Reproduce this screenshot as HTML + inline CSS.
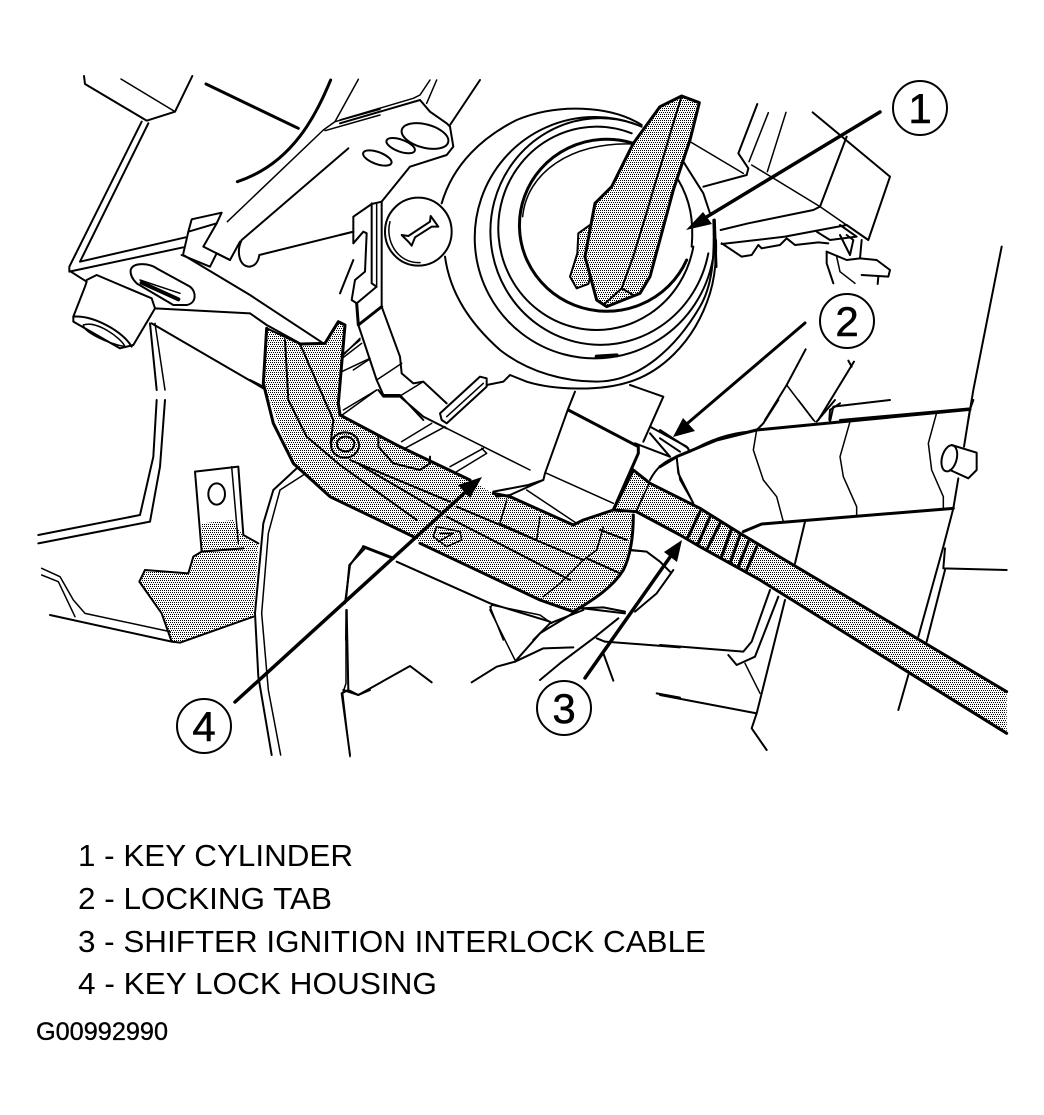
<!DOCTYPE html>
<html><head><meta charset="utf-8"><style>
html,body{margin:0;padding:0;background:#fff;width:1044px;height:1115px;overflow:hidden}
svg{display:block}
polyline,path,ellipse,line,polygon{stroke-linejoin:round;stroke-linecap:round}
.k{stroke-width:9}.t{stroke-width:4.5}.x{stroke-width:12}
.s{fill:url(#st)}
text{font-family:"Liberation Sans",sans-serif;fill:#000;stroke:none}
</style></head><body>
<svg width="1044" height="1115" viewBox="0 0 1044 1115" xmlns="http://www.w3.org/2000/svg">
<defs>
<pattern id="st" patternUnits="userSpaceOnUse" width="18" height="18">
<rect width="18" height="18" fill="#fff"/>
<rect x="0" y="0" width="3" height="3" fill="#000"/><rect x="6" y="0" width="3" height="3" fill="#000"/><rect x="12" y="0" width="3" height="3" fill="#000"/>
<rect x="3" y="6" width="3" height="3" fill="#000"/><rect x="9" y="6" width="3" height="3" fill="#000"/><rect x="15" y="6" width="3" height="3" fill="#000"/>
<rect x="0" y="12" width="3" height="3" fill="#000"/><rect x="6" y="12" width="3" height="3" fill="#000"/><rect x="12" y="12" width="3" height="3" fill="#000"/>
</pattern>
</defs>
<rect width="1044" height="1115" fill="#fff"/>

<!-- top-left bracket -->
<g transform="translate(40,60) scale(.33333)" fill="none" stroke="#000" stroke-width="6">
<polyline points="132,48 135,72 320,182 405,155 457,48"/>
<polyline class="t" points="243,57 405,155"/>
<polyline class="k" points="498,72 775,205"/>
<path class="k" d="M872,60 C830,160 760,310 592,365"/>
<polyline class="t" points="955,58 885,185"/>
<polyline class="t" points="1020,148 885,185 850,210 562,485"/>
<polyline class="t" points="1020,165 855,212"/>
<path d="M925,265 L605,540 C590,570 595,615 625,620 C645,620 655,605 658,585 L940,515"/>
<polyline points="305,185 88,620 88,632 140,665 135,680 100,770 100,785 240,865 280,855 345,745 630,760 680,795 780,850 855,855"/>
<polyline points="325,190 120,605 437,532"/>
<polyline points="88,635 430,562"/>
<polyline points="425,585 510,620 530,580 570,600 600,545"/>
<polyline points="430,580 445,515 530,490 490,560 570,600"/>
<polyline points="445,515 455,478 545,458 530,490"/>
<polyline points="430,585 630,705 850,850"/>
<path d="M272,630 C280,605 330,610 350,625 L450,680 C470,695 470,730 440,735 L400,735 L290,670 C280,660 270,645 272,630 Z"/>
<polyline class="x" points="305,668 415,718"/>
<polyline class="t" points="300,660 420,700"/>
<polyline points="140,660 170,645 335,715 345,745"/>
<path d="M100,770 C160,765 250,815 275,860"/>
<path class="t" d="M130,795 C170,780 245,835 255,860 C200,850 130,815 130,795 Z"/>
<polyline points="335,790 670,985"/>
<polyline points="330,790 350,990"/>
<polyline class="t" points="345,790 375,990"/>
</g>

<!-- key cylinder -->
<g transform="translate(340,80) scale(.33333)" fill="none" stroke="#000" stroke-width="6">
<polyline points="0,130 240,60 270,95 320,130 330,140 340,200 320,225 210,260 125,365"/>
<polyline class="t" points="0,120 220,55 240,45 270,0"/>
<polyline class="t" points="260,70 290,0"/>
<polyline points="330,135 420,0"/>
<ellipse cx="255" cy="168" rx="72" ry="35" transform="rotate(15 255 168)"/>
<ellipse cx="182" cy="197" rx="45" ry="18" transform="rotate(20 182 197)"/>
<ellipse cx="112" cy="234" rx="45" ry="18" transform="rotate(20 112 234)"/>
<ellipse cx="235" cy="455" rx="100" ry="102"/>
<path class="t" d="M150,425 C135,480 170,550 240,548"/>
<path d="M185,465 L205,468 L270,425 L272,408 L295,440 L275,440 L225,472 L215,497 L205,485 Z"/>
<polyline points="125,365 95,372 40,410 40,490 70,455 80,460 75,575 45,600 35,660 50,670 110,620 95,610 95,370"/>
<polyline class="t" points="110,370 110,615"/>
<polyline points="125,365 125,680 180,830 185,880 220,910 250,905 320,970"/>
<polyline class="k" points="125,680 55,735 50,670"/>
<polyline points="55,735 110,900 130,945 180,945 250,1020"/>
<polyline points="40,455 0,465"/>
<polyline points="40,540 0,640"/>
<polyline class="t" points="185,850 110,900"/>
<polyline class="t" points="110,930 0,1010"/>
<polyline class="t" points="250,905 185,945"/>
<polyline class="t" points="60,780 0,830"/>
<polyline class="t" points="65,790 0,840"/>
<polyline class="t" points="85,840 40,870"/>
<path d="M305,370 C340,250 430,170 530,120 C650,70 810,75 905,135"/>
<path d="M315,530 C330,640 390,730 480,810 C570,880 680,905 770,905 C900,905 1010,800 1080,680 C1115,620 1125,540 1120,420"/>
<path d="M440,915 L490,905 L510,885 L560,905 C640,930 780,935 870,905 C950,880 1060,800 1110,640 C1125,590 1130,540 1128,480"/>
<!-- rings: open arcs, ending where the reference's rings end -->
<path d="M905,140 A360 362 0 1 0 1118,540"/>
<polyline points="1030,245 1090,340 1110,400"/>
<path d="M880,130 A330 340 0 1 0 1105,520"/>
<path d="M875,160 A295 305 0 1 0 1060,500"/>
<path class="k" d="M880,190 A262 258 0 1 0 1040,540"/>
<path class="t" d="M548,410 C560,280 690,185 880,192"/>
<path d="M1015,300 C1050,360 1062,420 1055,500"/>
<path class="x" d="M770,830 L830,826"/>
<!-- key -->
<polygon class="s" points="750,435 715,460 712,520 690,590 710,625 745,612 760,560 740,540"/>
<polygon class="s k" points="1025,48 1078,68 1050,180 1000,330 930,590 900,640 800,680 770,660 735,530 765,370 815,320 880,190 960,80"/>
<polyline points="1025,48 985,180 880,530 845,625 790,675"/>
<polyline points="845,625 880,645"/>
</g>

<!-- right block -->
<g transform="translate(680,80) scale(.33333)" fill="none" stroke="#000" stroke-width="6">
<polyline points="232,72 175,220 205,265 200,285 70,320"/>
<polyline class="t" points="30,185 190,280"/>
<polyline class="t" points="265,98 207,245"/>
<polyline class="t" points="318,97 262,275"/>
<polyline class="t" points="215,255 420,380 550,470"/>
<polyline points="500,170 420,380 400,390 205,430 122,450"/>
<polyline points="398,97 630,290 565,480 500,435 315,470 125,492"/>
<polyline points="125,490 185,530 215,525 235,495 245,505 300,495 320,475 345,495 415,487 445,490"/>
<polyline points="410,455 450,480 530,470 480,435"/>
<polyline points="545,480 540,535 590,540 630,570 625,590 545,585"/>
<polyline points="440,515 440,550 460,610"/>
<polyline class="t" points="470,530 480,575 525,610"/>
<polyline points="480,465 510,525 520,480 500,465"/>
<polyline points="440,515 500,540 540,535"/>
<polyline points="595,590 593,612"/>
<polyline points="377,808 320,915 255,1020"/>
<polyline class="t" points="320,915 400,1020"/>
<polyline points="522,845 415,1020"/>
<polyline points="505,842 515,860"/>
<polyline points="965,500 880,930 865,1020"/>
<polyline points="480,970 450,990 448,1020"/>
<polyline points="870,985 480,1020"/>
<polyline class="k" points="103,420 108,560"/>
</g>

<!-- lower left -->
<g transform="translate(30,400) scale(.33333)" fill="none" stroke="#000" stroke-width="6">
<polyline points="380,0 370,170 330,345 25,405"/>
<polyline points="405,0 390,200 360,365 25,430"/>
<polygon class="s" stroke="none" points="515,455 490,470 475,520 345,510 328,545 395,640 425,725 450,728 670,650 685,435 640,410 610,360 515,370"/>
<polyline points="515,455 490,470 475,520 345,510 328,545 395,640 425,725 450,728 670,650"/>
<polyline points="515,455 495,215 625,200 640,405 685,430"/>
<polyline class="t" points="605,200 625,430"/>
<polyline points="515,455 640,445"/>
<ellipse cx="560" cy="282" rx="25" ry="32"/>
<polyline class="t" points="35,505 90,530 130,600 165,640 420,695"/>
<polyline class="t" points="35,525 85,545 135,650"/>
<polyline points="60,645 425,725"/>
<polyline points="800,205 730,270 700,370 675,640 685,830 725,1065"/>
<polyline class="t" points="820,225 750,270 715,400 695,640 715,870 752,1065"/>
<polyline points="1005,445 958,495 948,600"/>
<polyline points="950,630 955,870 935,880 960,1065"/>
<polyline points="955,870 985,885 1020,870"/>
</g>

<!-- lower middle -->
<g transform="translate(340,530) scale(.33333)" fill="none" stroke="#000" stroke-width="6">
<polyline points="10,480 55,495 210,408 275,457"/>
<polyline points="395,457 470,410 525,395 610,355 700,352"/>
<polyline class="t" points="525,390 450,240 455,225 600,255 635,280"/>
<polyline points="525,395 600,310 690,255 720,235 790,232 855,245"/>
<polyline points="600,450 660,400 760,325 835,265"/>
<polyline points="795,335 1020,352"/>
<polyline points="770,325 795,335"/>
<polyline points="790,370 820,452"/>
<polyline points="950,490 1020,503"/>
<polyline class="t" points="875,62 920,65 960,95 990,125"/>
<polyline points="885,245 950,190 1000,120"/>
<polyline class="t" points="18,240 18,460 8,490 30,680"/>
</g>

<!-- housing -->
<g transform="translate(250,320) scale(.33333)" fill="none" stroke="#000" stroke-width="6">
<polyline points="0,180 40,200"/>
<polyline class="t" points="275,110 330,55"/>
<polyline class="t" points="275,155 360,115"/>
<polyline class="t" points="280,270 380,210"/>
<polygon class="s" stroke="none" points="50,25 150,72 225,70 265,5 285,15 265,250 270,285 450,380 660,480 730,520 780,530 970,615 1000,600 1090,570 1150,585 1145,670 1110,770 970,875 870,840 510,670 490,650 240,530 130,430 40,190"/>
<polyline class="k" points="50,25 40,190 70,310 130,430 240,530 490,650"/>
<polyline class="k" points="150,72 225,70 265,5 285,15 265,250 270,285 450,380 660,480"/>
<polyline points="50,25 150,72"/>
<polyline class="k" points="730,520 780,530 970,615 1000,600 1090,570"/>
<path class="k" d="M1150,585 C1150,640 1145,700 1120,750 C1090,800 1030,840 970,875"/>
<polyline class="k" points="510,670 870,840 970,875"/>
<!-- inner stripes -->
<polyline points="105,60 115,240 170,350 270,435 500,600"/>
<polyline points="150,72 250,300 242,370"/>
<ellipse cx="285" cy="375" rx="42" ry="38"/>
<ellipse cx="287" cy="372" rx="26" ry="22"/>
<polyline points="300,420 600,545"/>
<polyline points="330,435 570,575"/>
<polyline points="385,345 385,380 430,430 510,450 540,430 540,410"/>
<polyline points="620,560 1000,720"/>
<polyline points="590,590 960,780"/>
<polyline class="t" points="770,540 750,610 860,660 870,590"/>
<polyline class="t" points="1060,620 1040,690 1000,720 930,790 880,830"/>
<polyline points="1050,630 1130,660"/>
<polyline points="1010,715 1110,760"/>
<path class="t" d="M560,620 L630,635 L635,660 L590,680 L550,650 Z"/>
<polyline class="t" points="570,640 610,640 565,665"/>
<!-- block lines -->
<polyline points="975,215 955,265 885,460 880,480 835,495 730,515 740,530 780,525 880,480"/>
<polyline class="k" points="955,270 1165,380 1165,400 1090,570"/>
<polyline points="1140,195 1240,230 1180,365"/>
<polyline class="t" points="590,325 840,450"/>
<polyline class="t" points="890,460 1090,550"/>
<polyline class="t" points="830,510 980,610"/>
<polyline class="t" points="700,385 600,440"/>
<polyline class="t" points="695,385 710,400 620,455"/>
<polyline class="t" points="585,320 465,385"/>
<polyline class="t" points="545,310 455,365"/>
<path fill="#fff" d="M570,280 L690,170 L710,175 L710,200 L590,310 L575,300 Z"/>
<polyline class="t" points="590,290 700,190"/>
<polyline points="385,210 400,230 450,230 520,290 590,325"/>
<polyline points="1200,320 1310,380 1320,395"/>
<polyline points="1200,340 1260,410"/>
<polyline points="1155,370 1260,410"/>
<polygon class="s k" points="1150,450 1200,490 1160,575 1090,570"/>
<path d="M1200,480 C1220,440 1250,420 1280,410 L1320,395 C1370,365 1430,340 1500,335"/>
<polyline class="t" points="1280,415 1290,480 1330,550"/>
<polyline points="1145,690 1190,695 1230,725 1260,755"/>
<polyline points="340,680 300,735 285,850"/>
<polyline class="k" points="340,680 430,715"/>
<polyline points="440,725 720,850 900,905"/>
<polyline class="t" points="720,860 760,960"/>
<polyline points="290,870 288,960"/>
<polyline points="1000,870 900,910 850,960"/>
<polyline points="1000,865 1125,880"/>
</g>

<!-- cable and right panel -->
<g transform="translate(660,400) scale(.33333)" fill="none" stroke="#000" stroke-width="6">
<polyline points="320,1050 275,985 290,940 375,600"/>
<polyline points="0,885 290,940"/>
<polyline class="t" points="300,880 255,790"/>
<polyline points="0,735 250,755 275,725 330,570"/>
<polyline points="205,765 230,795 285,770 355,590"/>
<polyline class="k" points="0,200 50,170 170,120 290,90 930,28"/>
<polyline points="930,28 940,0"/>
<polyline points="930,28 912,140"/>
<polyline points="895,235 880,325 850,440 775,710"/>
<polyline class="k" points="880,325 305,372 250,395"/>
<polyline points="855,445 850,505 1040,510"/>
<polyline points="855,510 800,725"/>
<polyline points="50,170 55,220 100,310"/>
<polyline class="t" points="290,90 280,150 310,240 350,290 370,365"/>
<polyline class="t" points="570,65 540,170 550,230 590,320 590,350"/>
<polyline class="t" points="830,38 805,130 815,210 850,290 850,325"/>
<polyline points="435,365 405,490"/>
<polyline points="745,825 715,930"/>
<path d="M875,135 L950,158 L950,210 L925,235 L870,210"/>
<ellipse cx="868" cy="175" rx="22" ry="40" transform="rotate(15 868 175)"/>
<polyline points="355,0 310,70 290,90"/>
<polyline class="t" points="415,0 465,65"/>
<polyline points="525,0 470,65"/>
<polyline points="510,65 520,20 690,0"/>
<polyline points="0,90 85,145"/>
<polyline points="0,115 60,155"/>
<polygon class="s" stroke="none" points="-30,250 120,325 240,400 1040,875 1040,1000 300,540 120,440 60,405 -69,336"/>
<polyline class="k" points="-30,250 120,325 240,400 1040,875"/>
<polyline class="k" points="-69,336 60,405 120,440 300,540 1040,1000"/>
<polyline class="k" points="120,335 85,410"/>
<polyline class="k" points="150,350 115,430"/>
<polyline class="k" points="180,370 140,450"/>
<polyline class="k" points="215,385 185,470"/>
<polyline class="k" points="240,405 210,490"/>
<polyline class="k" points="265,425 235,500"/>
<polyline class="k" points="290,440 258,515"/>
</g>

<!-- leader arrows -->
<g fill="#000" stroke="#000">
<line x1="880" y1="112" x2="695" y2="224" stroke-width="3.5"/>
<polygon points="686,230 703,212 712,224" stroke="none"/>
<line x1="805" y1="323" x2="682" y2="428" stroke-width="3"/>
<polygon points="673,437 683,418 695,431" stroke="none"/>
<line x1="585" y1="678" x2="675" y2="550" stroke-width="3.5"/>
<polygon points="682,540 677,562 664,552" stroke="none"/>
<line x1="235" y1="702" x2="470" y2="488" stroke-width="3.5"/>
<polygon points="482,477 470,498 458,485" stroke="none"/>
</g>

<!-- callouts -->
<g fill="#fff" stroke="#000" stroke-width="2">
<circle cx="920" cy="108" r="27"/>
<circle cx="847" cy="321" r="27"/>
<circle cx="564" cy="708" r="27"/>
<circle cx="204" cy="726" r="27"/>
</g>
<g font-size="42" text-anchor="middle" style="stroke:#000;stroke-width:.5">
<text x="920" y="123" style="stroke:#000;stroke-width:.5">1</text>
<text x="847" y="336" style="stroke:#000;stroke-width:.5">2</text>
<text x="564" y="723" style="stroke:#000;stroke-width:.5">3</text>
<text x="204" y="741" style="stroke:#000;stroke-width:.5">4</text>
</g>

<!-- legend -->
<g font-size="31">
<text x="78" y="866" textLength="275" lengthAdjust="spacingAndGlyphs">1 - KEY CYLINDER</text>
<text x="78" y="909" textLength="254" lengthAdjust="spacingAndGlyphs">2 - LOCKING TAB</text>
<text x="78" y="952" textLength="628" lengthAdjust="spacingAndGlyphs">3 - SHIFTER IGNITION INTERLOCK CABLE</text>
<text x="78" y="994" textLength="359" lengthAdjust="spacingAndGlyphs">4 - KEY LOCK HOUSING</text>
</g>
<text x="36" y="1040" font-size="25.3" textLength="132" lengthAdjust="spacingAndGlyphs" style="stroke:#000;stroke-width:.35">G00992990</text>
</svg>
</body></html>
